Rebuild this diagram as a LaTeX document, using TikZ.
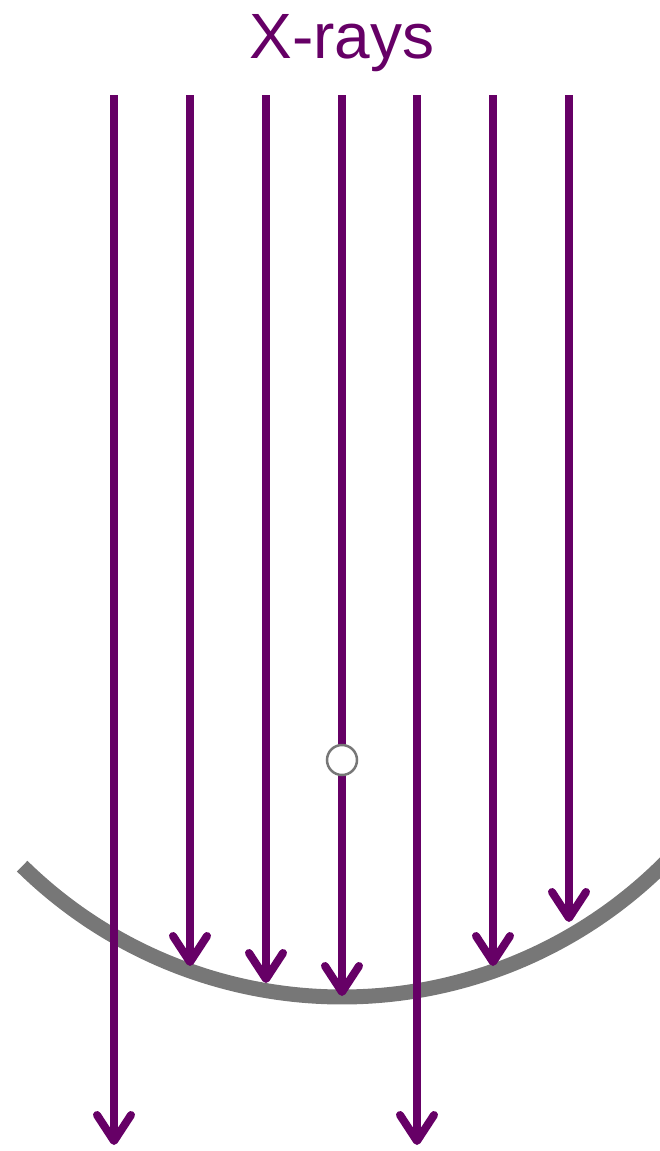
\documentclass[tikz,border=0pt]{standalone}
\usepackage{fontspec}
\setmainfont{Liberation Sans}
\usetikzlibrary{arrows.meta}
\definecolor{ray}{HTML}{660066}
\definecolor{mirror}{HTML}{777777}
\begin{document}
\begin{tikzpicture}[x=1pt,y=-1pt,
  raystyle/.style={draw=ray,line width=8pt,-{Straight Barb[length=26pt,width=34pt,line cap=round,line join=round]}},
  mirrorstyle/.style={draw=mirror,line width=15pt,line cap=butt},
  sample/.style={circle,draw=mirror,fill=white,line width=2.5pt,minimum size=30pt,inner sep=0pt}]
\useasboundingbox (0,0) rectangle (659,1151);
\node[text=ray,font=\fontsize{64}{76}\selectfont,anchor=base,inner sep=0pt] (title) at (342,58) {X-rays};
% mirror arc: circle centre (342,540.7), radius 456.3
\draw[mirrorstyle] (342,540.7) ++(134.5:456.3) arc[start angle=134.5,end angle=44,radius=456.3];
\foreach \i/\x/\yb in {1/114/1145,2/190/966,3/266/983,4/342/996,5/417/1145,6/493/966,7/569/922}{
  \coordinate (t\i) at (\x,95);
  \coordinate (b\i) at (\x,\yb);
}
\foreach \i in {1,...,7}{\draw[raystyle] (t\i) -- (b\i);}
\node[sample] (s) at (342,760) {};
\end{tikzpicture}
\end{document}
